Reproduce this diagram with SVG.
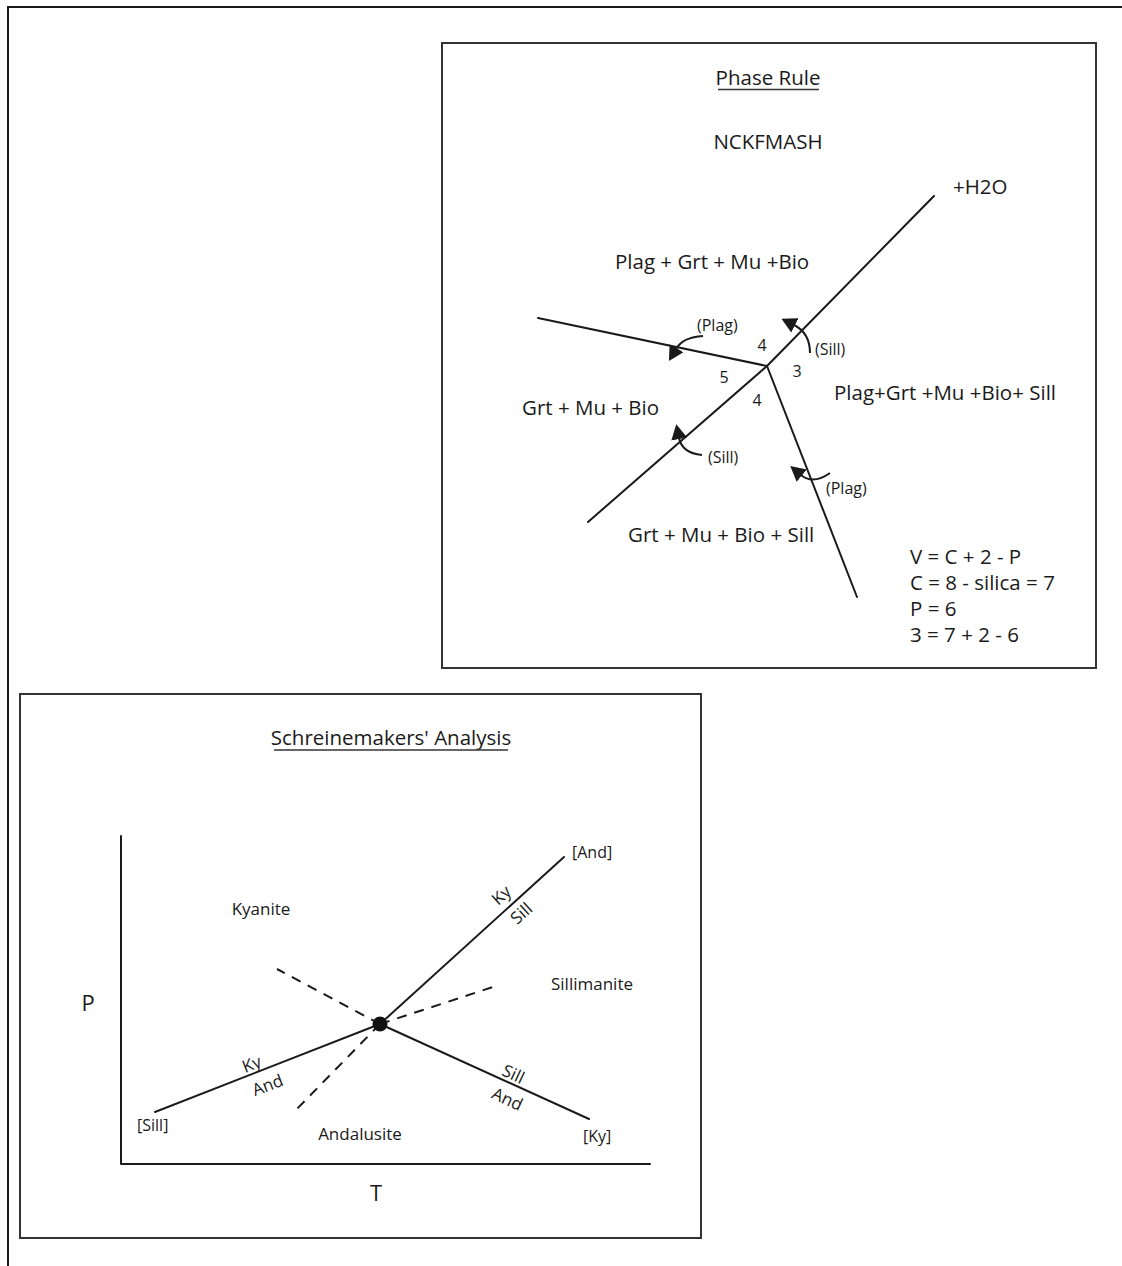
<svg xmlns="http://www.w3.org/2000/svg" width="1122" height="1266" viewBox="0 0 1122 1266">
  <style>
    text { font-family: "Open Sans", "Noto Sans", "Liberation Sans", sans-serif; fill: #1a1a1a; }
    .big { font-size: 20.5px; }
    .sm { font-size: 16px; }
    .num { font-size: 16px; }
    .lbl { font-size: 17px; }
    .br { font-size: 16px; }
    .ax { font-size: 22px; }
    .ln { font-size: 17px; }
    .frame { fill: none; stroke: #1a1a1a; stroke-width: 2; }
    .box { fill: #ffffff; stroke: #333333; stroke-width: 2; }
    .line { fill: none; stroke: #1a1a1a; stroke-width: 2; stroke-linecap: round; stroke-linejoin: round; }
    .dash { fill: none; stroke: #1a1a1a; stroke-width: 2; stroke-dasharray: 10 8; }
    .arc { fill: none; stroke: #1a1a1a; stroke-width: 2; marker-end: url(#head); }
    .ul { stroke: #333333; stroke-width: 1.6; }
  </style>
  <defs>
    <marker id="head" viewBox="0 0 15 16" refX="1" refY="8" markerWidth="15" markerHeight="16" markerUnits="userSpaceOnUse" orient="auto">
      <path d="M0,0 L15,8 L0,16 z" fill="#1a1a1a"/>
    </marker>
  </defs>
  <rect width="1122" height="1266" fill="#ffffff"/>

  <g id="page-frame">
    <polyline class="frame" points="8,1266 8,7 1122,7"/>
  </g>

  <g id="phase-rule-panel">
    <rect class="box" x="442" y="43" width="654" height="625"/>
    <g id="phase-title">
      <text class="big" x="768" y="85" text-anchor="middle">Phase Rule</text>
      <line class="ul" x1="718" y1="89.5" x2="819" y2="89.5"/>
    </g>
    <g id="system"><text class="big" x="768" y="149" text-anchor="middle">NCKFMASH</text></g>
    <g id="h2o"><text class="big" x="953" y="194">+H2O</text></g>
    <g id="field-top"><text class="big" x="615" y="269">Plag + Grt + Mu +Bio</text></g>
    <g id="field-left"><text class="big" x="522" y="415">Grt + Mu + Bio</text></g>
    <g id="field-right"><text class="big" x="834" y="400">Plag+Grt +Mu +Bio+ Sill</text></g>
    <g id="field-bottom"><text class="big" x="628" y="542">Grt + Mu + Bio + Sill</text></g>
    <g id="counts">
      <text class="num" x="762" y="351" text-anchor="middle">4</text>
      <text class="num" x="724" y="383" text-anchor="middle">5</text>
      <text class="num" x="797" y="377" text-anchor="middle">3</text>
      <text class="num" x="757" y="406" text-anchor="middle">4</text>
    </g>
    <g id="reaction-labels">
      <text class="sm" x="697" y="331">(Plag)</text>
      <text class="sm" x="815" y="355">(Sill)</text>
      <text class="sm" x="708" y="463">(Sill)</text>
      <text class="sm" x="826" y="494">(Plag)</text>
    </g>
    <g id="formula">
      <text class="big" x="910" y="564">V = C + 2 - P</text>
      <text class="big" x="910" y="590">C = 8 - silica = 7</text>
      <text class="big" x="910" y="616">P = 6</text>
      <text class="big" x="910" y="642">3 = 7 + 2 - 6</text>
    </g>
    <g id="phase-connectors">
      <polyline class="line" points="588,522 767,366 934,196"/>
      <line class="line" x1="538" y1="318" x2="767" y2="366"/>
      <line class="line" x1="767" y1="366" x2="857" y2="597"/>
      <path class="arc" d="M703,336 Q683,337 676,349"/>
      <path class="arc" d="M810,353 Q810,333 794,325"/>
      <path class="arc" d="M702,455 Q682,453 679,438"/>
      <path class="arc" d="M830,473 Q813,485 801,475"/>
    </g>
  </g>

  <g id="schreinemakers-panel">
    <rect class="box" x="20" y="694" width="681" height="544"/>
    <g id="schr-title">
      <text class="big" x="391" y="745" text-anchor="middle">Schreinemakers' Analysis</text>
      <line class="ul" x1="274" y1="750" x2="508" y2="750"/>
    </g>
    <g id="axes">
      <polyline class="line" points="121,836 121,1164 650,1164"/>
      <text class="ax" x="88" y="1011" text-anchor="middle">P</text>
      <text class="ax" x="376" y="1201" text-anchor="middle">T</text>
    </g>
    <g id="kyanite"><text class="lbl" x="261" y="915" text-anchor="middle">Kyanite</text></g>
    <g id="sillimanite"><text class="lbl" x="592" y="990" text-anchor="middle">Sillimanite</text></g>
    <g id="andalusite"><text class="lbl" x="360" y="1140" text-anchor="middle">Andalusite</text></g>
    <g id="and-end"><text class="br" x="572" y="858">[And]</text></g>
    <g id="sill-end"><text class="br" x="137" y="1131">[Sill]</text></g>
    <g id="ky-end"><text class="br" x="583" y="1142">[Ky]</text></g>
    <g id="schr-connectors">
      <line class="line" x1="380" y1="1024" x2="564" y2="857"/>
      <line class="line" x1="380" y1="1024" x2="155" y2="1112"/>
      <line class="line" x1="380" y1="1024" x2="589" y2="1119"/>
      <line class="dash" x1="380" y1="1024" x2="277" y2="969"/>
      <line class="dash" x1="380" y1="1024" x2="292" y2="1114"/>
      <line class="dash" x1="380" y1="1024" x2="496" y2="986"/>
    </g>
    <g id="triple-point"><circle cx="380" cy="1024" r="7.5" fill="#111111"/></g>
    <g id="line-labels">
      <text class="ln" transform="translate(502,896) rotate(-42)" text-anchor="middle" y="5">Ky</text>
      <text class="ln" transform="translate(522,914) rotate(-42)" text-anchor="middle" y="5">Sill</text>
      <text class="ln" transform="translate(252,1065) rotate(-21)" text-anchor="middle" y="5">Ky</text>
      <text class="ln" transform="translate(268,1086) rotate(-21)" text-anchor="middle" y="5">And</text>
      <text class="ln" transform="translate(513,1075) rotate(25)" text-anchor="middle" y="5">Sill</text>
      <text class="ln" transform="translate(507,1100) rotate(25)" text-anchor="middle" y="5">And</text>
    </g>
  </g>
</svg>
